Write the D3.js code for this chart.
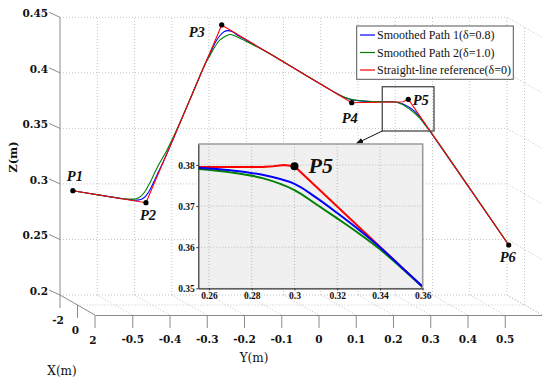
<!DOCTYPE html>
<html>
<head>
<meta charset="utf-8">
<script src="https://cdn.jsdelivr.net/npm/d3@7"></script>
<style>
body { margin: 0; background: #fff; }
svg { display: block; }
text { font-family: "DejaVu Serif", serif; fill: #111; }
.times { font-family: "Liberation Serif", serif; }
</style>
</head>
<body>
<div id="chart"></div>
<script>
// tick values
const yTicks = [-0.5, -0.4, -0.3, -0.2, -0.1, 0, 0.1, 0.2, 0.3, 0.4, 0.5];
const zTicks = [0.2, 0.25, 0.3, 0.35, 0.4, 0.45];
const xTicks = [-2, 0, 2];
const insetYTicks = [0.26, 0.28, 0.3, 0.32, 0.34, 0.36];
const insetZTicks = [0.35, 0.36, 0.37, 0.38];

const seriesNames = ["Smoothed Path 1(\u03b4=0.8)", "Smoothed Path 2(\u03b4=1.0)", "Straight-line reference(\u03b4=0)"];
const seriesColors = ["#0000ff", "#008000", "#ff0000"];

// path lies at a single X depth, points are [Y, Z]
const pathDepth = -1;
const pointNames = ["P1", "P2", "P3", "P4", "P5", "P6"];
const waypoints = [[-0.589, 0.2984], [-0.3927, 0.2876], [-0.1894, 0.4476], [0.1596, 0.3776], [0.3115, 0.3807], [0.5811, 0.2495]];

const straightPath = [[-0.589, 0.2984], [-0.3927, 0.2876], [-0.1894, 0.4476], [0.1596, 0.3776], [0.2981, 0.3785], [0.3115, 0.3807], [0.5811, 0.2495]];

const smooth1 = [[-0.589, 0.2984], [-0.516, 0.2944], [-0.4625, 0.2915], [-0.4356, 0.2902], [-0.4168, 0.2899], [-0.4034, 0.2910],
  [-0.3927, 0.2938], [-0.3819, 0.2992], [-0.3712, 0.3067], [-0.3604, 0.3145], [-0.3416, 0.3279], [-0.2745, 0.3806], [-0.2343, 0.4123],
  [-0.2208, 0.4219], [-0.2074, 0.4314], [-0.1940, 0.4381], [-0.1833, 0.4415], [-0.1725, 0.4425], [-0.1618, 0.4417], [-0.1510, 0.4393],
  [-0.1403, 0.4372], [-0.1188, 0.4330], [-0.0973, 0.4289], [-0.0598, 0.4216], [0.0208, 0.4055], [0.1013, 0.3894], [0.1282, 0.3844],
  [0.1443, 0.3819], [0.1604, 0.3803], [0.1819, 0.3793], [0.2033, 0.3788], [0.2356, 0.3785], [0.2758, 0.3783], [0.2892, 0.3774],
  [0.3027, 0.3756], [0.3161, 0.3731], [0.3295, 0.3695], [0.3429, 0.3645], [0.3564, 0.3584], [0.3752, 0.3492], [0.5811, 0.2495]];

const smooth2 = [[-0.589, 0.2984], [-0.516, 0.2944], [-0.4759, 0.2923], [-0.4490, 0.2911], [-0.4302, 0.2908], [-0.4168, 0.2914],
  [-0.4061, 0.2935], [-0.3953, 0.2977], [-0.3846, 0.3040], [-0.3739, 0.3112], [-0.3604, 0.3207], [-0.3390, 0.3333], [-0.3148, 0.3499],
  [-0.2745, 0.3806], [-0.2343, 0.4123], [-0.2208, 0.4201], [-0.2074, 0.4282], [-0.1940, 0.4341], [-0.1806, 0.4372], [-0.1671, 0.4390],
  [-0.1537, 0.4377], [-0.1403, 0.4357], [-0.1269, 0.4334], [-0.1135, 0.4311], [-0.0920, 0.4275], [-0.0598, 0.4216], [0.0208, 0.4055],
  [0.0960, 0.3905], [0.1228, 0.3853], [0.1389, 0.3828], [0.1550, 0.3810], [0.1765, 0.3796], [0.1980, 0.3790], [0.2194, 0.3786],
  [0.2624, 0.3785], [0.2785, 0.3783], [0.2892, 0.3769], [0.3027, 0.3747], [0.3161, 0.3715], [0.3295, 0.3679], [0.3429, 0.3634],
  [0.3564, 0.3577], [0.3752, 0.3496], [0.5811, 0.2495]];

// zoomed view around P5
const insetP5 = [0.3, 0.3797];
const insetStraight = [[0.255, 0.3795], [0.285, 0.3795], [0.29, 0.3797], [0.295, 0.38], [0.3, 0.3797], [0.36, 0.3503]];
const insetSmooth1 = [[0.255, 0.3793], [0.27, 0.3787], [0.285, 0.3776], [0.3, 0.3754], [0.31, 0.3721], [0.32, 0.3683], [0.33, 0.3643], [0.34, 0.3600], [0.35, 0.3552], [0.36, 0.3504]];
const insetSmooth2 = [[0.255, 0.379], [0.27, 0.3782], [0.285, 0.3768], [0.3, 0.3739], [0.31, 0.3705], [0.32, 0.3670], [0.33, 0.3634], [0.34, 0.3595], [0.35, 0.3550], [0.36, 0.3503]];

const width = 542, height = 381;
const svg = d3.select("#chart").append("svg")
    .attr("width", width)
    .attr("height", height);

// 3D box: Y horizontal, Z vertical, X goes into depth
const yScale = d3.scaleLinear().domain([-0.6, 0.6]).range([60, 507]);
const zScale = d3.scaleLinear().domain([0.2, 0.45]).range([295, 17.3]);
const depthX = d3.scaleLinear().domain([-2, 2]).range([0, 35]);
const depthY = d3.scaleLinear().domain([-2, 2]).range([0, 20]);
const proj = (x, y, z) => [yScale(y) + depthX(x), zScale(z) + depthY(x)];

const grid = svg.append("g")
    .attr("stroke", "#c4c4c4")
    .attr("stroke-width", 1)
    .attr("stroke-dasharray", "1,2")
    .attr("fill", "none");

function seg(g, a, b) {
    g.append("line")
        .attr("x1", a[0]).attr("y1", a[1])
        .attr("x2", b[0]).attr("y2", b[1]);
}

// back wall
zTicks.forEach(z => seg(grid, proj(-2, -0.6, z), proj(-2, 0.6, z)));
yTicks.forEach(y => seg(grid, proj(-2, y, 0.2), proj(-2, y, 0.45)));
seg(grid, proj(-2, 0.6, 0.2), proj(-2, 0.6, 0.45));
// floor
yTicks.forEach(y => seg(grid, proj(-2, y, 0.2), proj(2, y, 0.2)));
seg(grid, proj(0, -0.6, 0.2), proj(0, 0.6, 0.2));
seg(grid, proj(-2, 0.6, 0.2), proj(2, 0.6, 0.2));
// right wall
zTicks.forEach(z => seg(grid, proj(-2, 0.6, z), proj(2, 0.6, z)));
seg(grid, proj(0, 0.6, 0.2), proj(0, 0.6, 0.45));

// axes
const axes = svg.append("g").attr("stroke", "#8a8a8a").attr("stroke-width", 1);
seg(axes, proj(-2, -0.6, 0.2), proj(-2, -0.6, 0.45));
seg(axes, proj(-2, -0.6, 0.2), proj(2, -0.6, 0.2));

zTicks.forEach(z => {
    const p = proj(-2, -0.6, z);
    seg(axes, p, [p[0] - 11, p[1] - 5]);
    svg.append("text")
        .attr("x", p[0] - 12).attr("y", p[1] - 4)
        .attr("dy", "0.35em")
        .attr("text-anchor", "end")
        .style("font-size", "10.5px").style("font-weight", "bold")
        .text(String(z));
});

xTicks.forEach(x => {
    const p = proj(x, -0.6, 0.2);
    seg(axes, p, [p[0], p[1] + 13]);
    svg.append("text")
        .attr("x", p[0] - 2).attr("y", p[1] + 25)
        .attr("dy", "0.35em")
        .attr("text-anchor", "middle")
        .style("font-size", "10.5px").style("font-weight", "bold")
        .text(String(x));
});

const yAxis = d3.axisBottom(yScale)
    .tickValues(yTicks)
    .tickSize(13)
    .tickSizeOuter(0)
    .tickPadding(8)
    .tickFormat(d => String(d));
const yAxisG = svg.append("g")
    .attr("transform", "translate(" + depthX(2) + "," + (zScale(0.2) + depthY(2)) + ")")
    .call(yAxis);
yAxisG.select(".domain").attr("stroke", "#8a8a8a");
yAxisG.selectAll(".tick line").attr("stroke", "#8a8a8a");
yAxisG.selectAll(".tick text")
    .attr("fill", "#111")
    .style("font-family", "'DejaVu Serif', serif")
    .style("font-size", "10.5px")
    .style("font-weight", "bold");

// axis titles
svg.append("text")
    .attr("transform", "translate(13,157) rotate(-90)")
    .attr("text-anchor", "middle").attr("dy", "0.35em")
    .style("font-size", "11.5px").style("font-weight", "bold")
    .text("Z(m)");
svg.append("text")
    .attr("x", 254).attr("y", 358).attr("dy", "0.35em")
    .attr("text-anchor", "middle")
    .style("font-size", "12px")
    .text("Y(m)");
svg.append("text")
    .attr("x", 62).attr("y", 371).attr("dy", "0.35em")
    .attr("text-anchor", "middle")
    .style("font-size", "12px")
    .text("X(m)");

// paths in the 3D view
const line3d = d3.line()
    .x(d => proj(pathDepth, d[0], d[1])[0])
    .y(d => proj(pathDepth, d[0], d[1])[1]);
const mainSeries = [smooth1, smooth2, straightPath];
mainSeries.forEach((s, i) => {
    svg.append("path")
        .attr("d", line3d.curve(i < 2 ? d3.curveCatmullRom.alpha(0.5) : d3.curveLinear)(s))
        .attr("fill", "none")
        .attr("stroke", seriesColors[i])
        .attr("stroke-width", 1.1);
});

const labelOffsets = [[2, -15], [2, 12], [-25, 7], [-2, 15], [12.5, 1], [-1, 12]];
waypoints.forEach((p, i) => {
    const q = proj(pathDepth, p[0], p[1]);
    svg.append("circle").attr("cx", q[0]).attr("cy", q[1]).attr("r", 2.6).attr("fill", "#000");
    svg.append("text")
        .attr("class", "times")
        .attr("x", q[0] + labelOffsets[i][0]).attr("y", q[1] + labelOffsets[i][1])
        .attr("dy", "0.35em")
        .attr("text-anchor", "middle")
        .style("font-size", "14.5px").style("font-weight", "bold").style("font-style", "italic")
        .text(pointNames[i]);
});

// zoom box + arrow
svg.append("rect")
    .attr("x", 382.3).attr("y", 86.7).attr("width", 51.7).attr("height", 44.3)
    .attr("fill", "none").attr("stroke", "#555").attr("stroke-width", 1.4);
svg.append("defs").append("marker")
    .attr("id", "arrow").attr("viewBox", "0 0 10 10")
    .attr("refX", 9).attr("refY", 5)
    .attr("markerWidth", 7).attr("markerHeight", 7)
    .attr("orient", "auto")
    .append("path").attr("d", "M0,1L10,5L0,9Z").attr("fill", "#111");
svg.append("line")
    .attr("x1", 382.3).attr("y1", 131).attr("x2", 356.7).attr("y2", 143.3)
    .attr("stroke", "#111").attr("stroke-width", 1)
    .attr("marker-end", "url(#arrow)");

// inset
const insetY = d3.scaleLinear().domain([0.255, 0.36]).range([198.3, 422.7]);
const insetZ = d3.scaleLinear().domain([0.35, 0.3851]).range([288.3, 144]);
const inset = svg.append("g");
inset.append("rect")
    .attr("x", 198.3).attr("y", 144).attr("width", 224.4).attr("height", 144.3)
    .attr("fill", "#f0f0f0");
svg.select("defs").append("clipPath").attr("id", "insetClip")
    .append("rect").attr("x", 198.3).attr("y", 144).attr("width", 224.4).attr("height", 144.3);

const igrid = inset.append("g")
    .attr("stroke", "#b8b8b8").attr("stroke-dasharray", "1,2").attr("stroke-width", 1);
insetYTicks.forEach(v => seg(igrid, [insetY(v), 144], [insetY(v), 288.3]));
insetZTicks.forEach(v => seg(igrid, [198.3, insetZ(v)], [422.7, insetZ(v)]));

const lineInset = d3.line().x(d => insetY(d[0])).y(d => insetZ(d[1]));
const insetSeries = [insetStraight, insetSmooth2, insetSmooth1];
const insetColors = [seriesColors[2], seriesColors[1], seriesColors[0]];
insetSeries.forEach((s, i) => {
    inset.append("path")
        .attr("clip-path", "url(#insetClip)")
        .attr("d", lineInset.curve(i === 0 ? d3.curveLinear : d3.curveCatmullRom.alpha(0.5))(s))
        .attr("fill", "none")
        .attr("stroke", insetColors[i])
        .attr("stroke-width", 2);
});

inset.append("path")
    .attr("d", "M198.3,144H422.7V288.3")
    .attr("fill", "none").attr("stroke", "#999").attr("stroke-width", 1.5);

const iax = d3.axisLeft(insetZ).tickValues(insetZTicks).tickSize(2).tickSizeOuter(0).tickPadding(1.5).tickFormat(d => String(d));
const iay = d3.axisBottom(insetY).tickValues(insetYTicks).tickSize(2).tickSizeOuter(0).tickPadding(2).tickFormat(d => String(d));
const gx = inset.append("g").attr("transform", "translate(198.3,0)").call(iax);
const gy = inset.append("g").attr("transform", "translate(0,288.3)").call(iay);
[gx, gy].forEach(g => {
    g.select(".domain").attr("stroke", "#333").attr("stroke-width", 1.2);
    g.selectAll(".tick line").attr("stroke", "#333");
    g.selectAll(".tick text")
        .attr("fill", "#111")
        .style("font-family", "'Liberation Serif', serif")
        .style("font-size", "9.5px")
        .style("font-weight", "bold");
});

inset.append("circle")
    .attr("cx", insetY(insetP5[0])).attr("cy", insetZ(insetP5[1])).attr("r", 4).attr("fill", "#000");
inset.append("text")
    .attr("class", "times")
    .attr("x", insetY(insetP5[0]) + 14).attr("y", insetZ(insetP5[1]))
    .attr("dy", "0.33em")
    .style("font-size", "22px").style("font-weight", "bold").style("font-style", "italic")
    .text("P5");

// legend
const legend = svg.append("g");
legend.append("rect")
    .attr("x", 356.7).attr("y", 26).attr("width", 156.6).attr("height", 53.3)
    .attr("fill", "#fff").attr("stroke", "#555").attr("stroke-width", 1);
seriesNames.forEach((name, i) => {
    const ly = 35 + i * 17.5;
    legend.append("line")
        .attr("x1", 360).attr("x2", 375).attr("y1", ly).attr("y2", ly)
        .attr("stroke", seriesColors[i]).attr("stroke-width", 1.2);
    legend.append("text")
        .attr("class", "times")
        .attr("x", 377).attr("y", ly).attr("dy", "0.35em")
        .style("font-size", "12px")
        .text(name);
});
</script>
</body>
</html>
